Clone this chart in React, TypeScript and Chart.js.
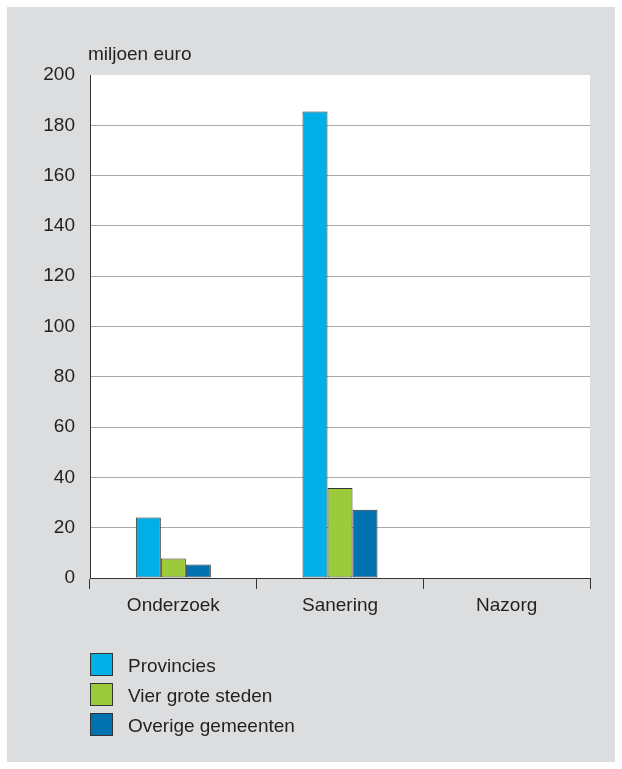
import React, { useEffect, useRef } from "react";
import { Chart, registerables } from "chart.js";

Chart.register(...registerables);

const categories = ["Onderzoek", "Sanering", "Nazorg"];
const provincies = [24.1, 185.5, null];
const vierGroteSteden = [7.8, 35.8, null];
const overigeGemeenten = [5.4, 27.1, null];
const seriesLabels = ["Provincies", "Vier grote steden", "Overige gemeenten"];
const seriesColors = ["#00afe6", "#9bca3c", "#0072b0"];
const yTitle = "miljoen euro";

const FONT = '"Liberation Sans", Arial, sans-serif';
const FS = 19;
const TEXT = "#231f20";

const bgPlugin = {
  id: "bg",
  beforeDraw(chart: any) {
    const { ctx, chartArea } = chart;
    ctx.save();
    ctx.fillStyle = "#ffffff";
    ctx.fillRect(0, 0, chart.width, chart.height);
    ctx.fillStyle = "#dcdddf";
    ctx.fillRect(7, 7, chart.width - 14, chart.height - 14);
    ctx.fillStyle = "#ffffff";
    ctx.fillRect(chartArea.left, chartArea.top, chartArea.right - chartArea.left, chartArea.bottom - chartArea.top);
    ctx.restore();
  },
  afterDraw(chart: any) {
    const { ctx, chartArea } = chart;
    ctx.save();
    ctx.font = `${FS}px ${FONT}`;
    ctx.fillStyle = TEXT;
    ctx.textAlign = "left";
    ctx.textBaseline = "alphabetic";
    ctx.fillText(yTitle, chartArea.left - 2, chartArea.top - 15);
    ctx.restore();
  },
};

export default function App() {
  const ref = useRef<HTMLCanvasElement>(null);
  useEffect(() => {
    document.body.style.margin = "0";
    const data = [provincies, vierGroteSteden, overigeGemeenten];
    const chart = new Chart(ref.current!, {
      type: "bar",
      data: {
        labels: categories,
        datasets: data.map((d, i) => ({
          label: seriesLabels[i],
          data: d as any,
          backgroundColor: seriesColors[i],
          borderColor: "#333333",
          borderWidth: 1,
          borderSkipped: false,
          barPercentage: 1,
          categoryPercentage: 0.45,
        })),
      },
      options: {
        animation: false,
        responsive: false,
        maintainAspectRatio: false,
        layout: { padding: { left: 0, top: 75, right: 32, bottom: 150 } },
        plugins: { legend: { display: false }, tooltip: { enabled: false }, title: { display: false } },
        scales: {
          x: {
            offset: true,
            afterFit: (s: any) => { s.height = 41; },
            grid: {
              offset: true,
              drawOnChartArea: false,
              drawTicks: true,
              tickLength: 11,
              color: "#333333",
              lineWidth: 1,
            },
            border: { display: true, color: "#333333", width: 1 },
            ticks: { color: TEXT, font: { family: FONT, size: FS }, padding: 5 },
          },
          y: {
            min: 0,
            max: 200,
            afterFit: (s: any) => { s.width = 90; },
            grid: {
              drawTicks: false,
              color: (c: any) => (c.tick && (c.tick.value === 0 || c.tick.value === 200) ? "rgba(0,0,0,0)" : "#a9a9a9"),
              lineWidth: 1,
            },
            border: { display: true, color: "#333333", width: 1 },
            ticks: { stepSize: 20, color: TEXT, font: { family: FONT, size: FS }, padding: 15 },
          },
        },
      },
      plugins: [bgPlugin],
    });
    return () => chart.destroy();
  }, []);

  return (
    <div style={{ position: "relative", width: 622, height: 769 }}>
      <canvas ref={ref} width={622} height={769} style={{ display: "block", width: 622, height: 769 }} />
      <div style={{ position: "absolute", left: 90, top: 653 }}>
        {seriesLabels.map((l, i) => (
          <div key={l} style={{ display: "flex", alignItems: "center", height: 30 }}>
            <div
              style={{
                width: 23,
                height: 23,
                boxSizing: "border-box",
                border: "1px solid #333333",
                background: seriesColors[i],
                marginRight: 15,
                marginTop: -7,
              }}
            />
            <span style={{ fontFamily: FONT, fontSize: FS, color: TEXT, marginTop: -5, lineHeight: "22px" }}>{l}</span>
          </div>
        ))}
      </div>
    </div>
  );
}
